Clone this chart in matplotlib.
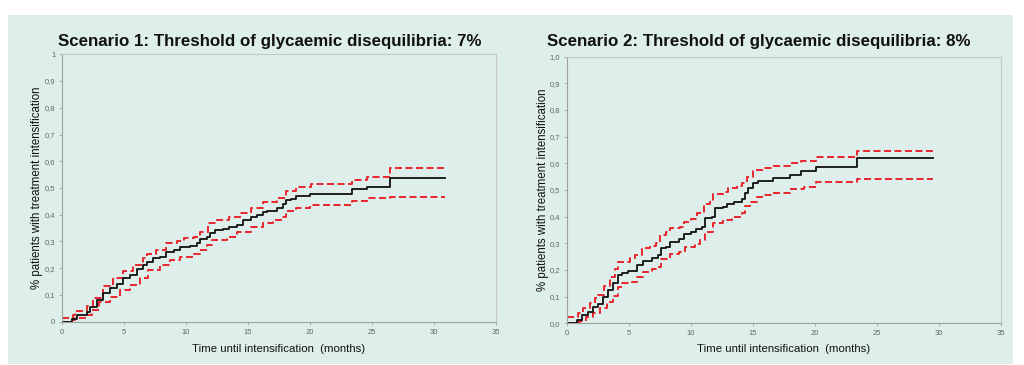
import matplotlib
matplotlib.use("Agg")
import matplotlib.pyplot as plt
from matplotlib.patches import Rectangle
from matplotlib.ticker import FixedLocator, FixedFormatter

# ---------------- data ----------------
titles = ["Scenario 1: Threshold of glycaemic disequilibria: 7%",
          "Scenario 2: Threshold of glycaemic disequilibria: 8%"]
xlabel = "Time until intensification  (months)"
ylabel = "% patients with treatment intensification"
x_ticks = [0, 5, 10, 15, 20, 25, 30, 35]
y_ticks = [0, 0.1, 0.2, 0.3, 0.4, 0.5, 0.6, 0.7, 0.8, 0.9, 1.0]
y_labels_1 = ["0", "0,1", "0,2", "0,3", "0,4", "0,5", "0,6", "0,7", "0,8", "0,9", "1"]
y_labels_2 = ["0,0", "0,1", "0,2", "0,3", "0,4", "0,5", "0,6", "0,7", "0,8", "0,9", "1,0"]

# Scenario 1 (7%)
s1_main_t = [0, 0.8, 1.16, 2.0, 2.2, 2.8, 3.3, 3.85, 4.4, 4.9, 5.5, 6.0, 6.5, 6.8, 7.35, 7.9,
             8.4, 9.0, 9.5, 10.3, 10.85, 11.1, 11.7, 11.9, 12.3, 13.0, 13.5, 14.1, 14.6, 15.2,
             15.7, 16.2, 16.5, 17.3, 17.85, 18.1, 18.5, 18.9, 20.0, 23.4, 24.6, 26.5, 30.9]
s1_main_v = [0, 0.01, 0.025, 0.037, 0.056, 0.08, 0.106, 0.125, 0.14, 0.162, 0.175, 0.196, 0.212,
             0.225, 0.237, 0.243, 0.26, 0.268, 0.278, 0.283, 0.293, 0.308, 0.316, 0.333, 0.343,
             0.346, 0.353, 0.363, 0.38, 0.39, 0.398, 0.409, 0.415, 0.424, 0.44, 0.455, 0.46,
             0.469, 0.479, 0.496, 0.505, 0.536, 0.536]
s1_up_t = [0, 0.9, 1.0, 2.0, 2.5, 3.3, 4.1, 4.9, 5.7, 6.5, 6.8, 7.6, 8.4, 9.25, 9.8, 10.6, 11.1,
           11.8, 12.5, 13.5, 14.4, 15.2, 16.2, 17.3, 18.1, 18.9, 20.1, 23.4, 24.6, 26.5, 30.9]
s1_up_v = [0.013, 0.025, 0.041, 0.059, 0.087, 0.133, 0.162, 0.19, 0.212, 0.237, 0.253, 0.27,
           0.293, 0.303, 0.312, 0.318, 0.337, 0.368, 0.38, 0.39, 0.408, 0.427, 0.449, 0.461,
           0.49, 0.505, 0.514, 0.53, 0.54, 0.576, 0.576]
s1_lo_t = [0, 0.8, 1.0, 1.8, 2.4, 3.0, 3.85, 4.65, 5.5, 6.3, 6.95, 7.9, 8.7, 9.5, 10.6, 11.1,
           11.7, 12.1, 13.3, 14.1, 15.2, 16.2, 17.0, 17.7, 18.1, 18.9, 20.0, 23.4, 24.6, 26.5, 30.9]
s1_lo_v = [0, 0.005, 0.012, 0.025, 0.044, 0.075, 0.094, 0.118, 0.137, 0.162, 0.193, 0.212,
           0.231, 0.243, 0.253, 0.27, 0.287, 0.306, 0.318, 0.337, 0.355, 0.37, 0.38, 0.393,
           0.415, 0.427, 0.436, 0.451, 0.461, 0.467, 0.467]

# Scenario 2 (8%)
s2_main_t = [0, 0.8, 1.15, 1.7, 2.1, 2.5, 2.9, 3.3, 3.7, 4.1, 4.4, 4.9, 5.6, 6.1, 6.8, 7.35, 7.6,
             8.0, 8.3, 9.0, 9.4, 10.0, 10.4, 10.85, 11.1, 11.65, 11.9, 12.6, 12.9, 13.5, 14.1,
             14.35, 14.6, 15.0, 15.4, 16.6, 18.0, 18.9, 20.1, 23.4, 29.5]
s2_main_v = [0, 0.012, 0.031, 0.044, 0.0625, 0.072, 0.1, 0.125, 0.15, 0.181, 0.19, 0.197, 0.219,
             0.234, 0.244, 0.256, 0.281, 0.2875, 0.306, 0.315, 0.335, 0.341, 0.353, 0.3625,
             0.394, 0.40, 0.431, 0.4375, 0.4475, 0.456, 0.466, 0.4875, 0.506, 0.525, 0.535,
             0.544, 0.556, 0.571, 0.5875, 0.619, 0.619]
s2_up_t = [0, 0.9, 1.3, 1.8, 2.2, 2.5, 3.0, 3.45, 3.85, 4.1, 5.1, 5.5, 6.0, 6.7, 7.2, 7.5, 8.0,
           8.3, 9.1, 9.4, 10.0, 10.45, 11.0, 11.5, 11.8, 12.6, 13.0, 13.7, 14.1, 14.5, 15.0,
           15.8, 16.6, 18.0, 18.9, 20.1, 23.4, 29.5]
s2_up_v = [0.025, 0.0375, 0.056, 0.075, 0.094, 0.106, 0.14, 0.175, 0.2025, 0.231, 0.244, 0.256,
           0.281, 0.29, 0.3025, 0.331, 0.344, 0.356, 0.3625, 0.381, 0.39, 0.4125, 0.4475, 0.456,
           0.485, 0.494, 0.506, 0.515, 0.5275, 0.55, 0.575, 0.584, 0.591, 0.60, 0.61, 0.625,
           0.646, 0.646]
s2_lo_t = [0, 0.9, 1.0, 1.55, 2.1, 2.65, 3.2, 3.7, 4.1, 4.4, 5.2, 5.6, 6.1, 6.8, 7.2, 7.6, 8.3,
           9.0, 9.5, 10.3, 10.7, 11.1, 11.8, 12.6, 13.3, 14.1, 14.35, 14.75, 15.3, 15.8, 16.6,
           18.0, 19.1, 20.1, 23.4, 29.5]
s2_lo_v = [0, 0.004, 0.01, 0.025, 0.04, 0.056, 0.081, 0.1025, 0.1375, 0.15, 0.156, 0.1725,
           0.194, 0.2025, 0.2125, 0.24, 0.26, 0.269, 0.2875, 0.2975, 0.3125, 0.344, 0.3775,
           0.3875, 0.40, 0.415, 0.44, 0.456, 0.475, 0.481, 0.49, 0.5025, 0.5125, 0.531, 0.541,
           0.541]

# ---------------- figure ----------------
W, H = 1024, 365
fig = plt.figure(figsize=(W / 100, H / 100), dpi=100, facecolor="white")
bg = "#ddeeeb"
fig.patches.append(Rectangle((8 / W, 1 - 364 / H), (1013 - 8) / W, (364 - 15) / H,
                             transform=fig.transFigure, facecolor=bg, edgecolor="none",
                             zorder=-10))

font = ["Liberation Sans", "DejaVu Sans"]
red = "#e8262c"
tick_col = "#666666"
spine_col = "#a0a0a0"

panels = [
    dict(rect=(62.3, 54.3, 495.7, 321.7), title=titles[0], title_x=58, ylabels=y_labels_1,
         main=(s1_main_t, s1_main_v), up=(s1_up_t, s1_up_v), lo=(s1_lo_t, s1_lo_v), ylab_x=37),
    dict(rect=(567.3, 56.7, 1000.7, 323.3), title=titles[1], title_x=547, ylabels=y_labels_2,
         main=(s2_main_t, s2_main_v), up=(s2_up_t, s2_up_v), lo=(s2_lo_t, s2_lo_v), ylab_x=543),
]

for p in panels:
    l, t, r, b = p["rect"]
    ax = fig.add_axes([l / W, 1 - b / H, (r - l) / W, (b - t) / H])
    ax.set_zorder(5)
    ax.set_facecolor("none")
    ax.plot(*p["up"], drawstyle="steps-post", color=red, lw=1.4, dashes=(3.6, 1.8))
    ax.plot(*p["lo"], drawstyle="steps-post", color=red, lw=1.4, dashes=(3.6, 1.8))
    ax.plot(*p["main"], drawstyle="steps-post", color="#111111", lw=1.3)
    ax.set_xlim(0, 35)
    ax.set_ylim(0, 1)
    ax.xaxis.set_major_locator(FixedLocator(x_ticks))
    ax.xaxis.set_major_formatter(FixedFormatter([str(v) for v in x_ticks]))
    ax.yaxis.set_major_locator(FixedLocator(y_ticks))
    ax.yaxis.set_major_formatter(FixedFormatter(p["ylabels"]))
    ax.tick_params(axis="both", direction="out", length=2, width=0.6, color=spine_col,
                   labelsize=5.5, labelcolor=tick_col, pad=3)
    for lab in ax.get_xticklabels() + ax.get_yticklabels():
        lab.set_family(font)
    for s in ax.spines.values():
        s.set_color("#c8c8c8")
        s.set_linewidth(0.8)
    ax.spines["left"].set_color(spine_col)
    ax.spines["bottom"].set_color(spine_col)
    fig.text(p["title_x"] / W, 1 - 46 / H, p["title"], ha="left", va="baseline",
             fontsize=12.2, fontweight="bold", family=font, color="#111111", zorder=6)
    fig.text(p["ylab_x"] / W, 1 - ((t + b) / 2) / H, ylabel, rotation=90, ha="center",
             va="center", fontsize=8.3, family=font, color="#111111", zorder=6)
    fig.text(((l + r) / 2) / W, 1 - 349 / H, xlabel, ha="center", va="center",
             fontsize=8.2, family=font, color="#111111", zorder=6)

fig.savefig("out.png", dpi=100, facecolor="white")
